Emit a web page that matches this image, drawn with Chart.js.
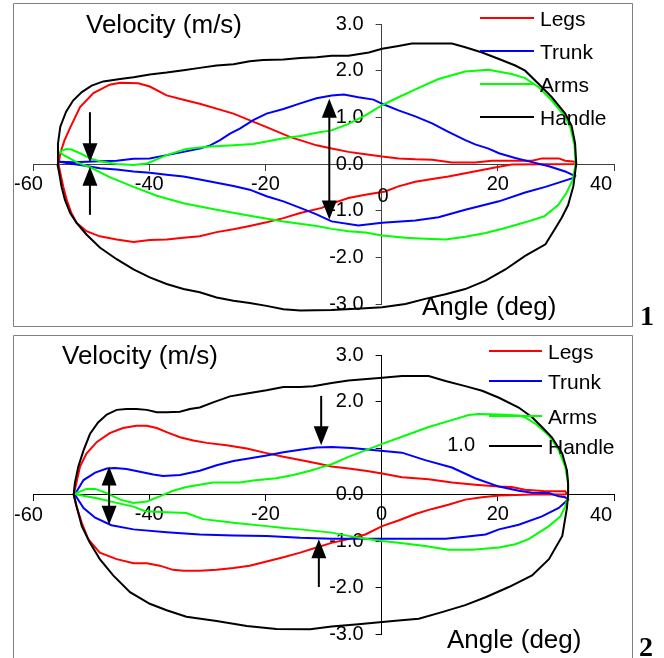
<!DOCTYPE html>
<html>
<head>
<meta charset="utf-8">
<script src="https://cdn.jsdelivr.net/npm/chart.js@4.4.1/dist/chart.umd.min.js"></script>
<style>
body{margin:0;background:#fff;}
#page{position:relative;width:664px;height:658px;overflow:hidden;background:#fff;}
canvas{position:absolute;left:0;}
.num{position:absolute;font:bold 28px "Liberation Serif","Times New Roman",serif;color:#000;}
</style>
</head>
<body>
<div id="page">
<canvas id="top" width="664" height="328" style="top:0"></canvas>
<canvas id="bottom" width="664" height="330" style="top:328px"></canvas>
<div class="num" style="left:640px;top:300px">1</div>
<div class="num" style="left:639px;top:631px">2</div>
</div>
<script>
// [angle deg, velocity m/s], each loop traced catch -> finish -> catch
const legs1 = [[-55.6,0],[-55.3,0.23],[-54.6,0.5],[-53.6,0.78],[-51.9,1.22],[-49.6,1.52],[-46.8,1.70],[-45.0,1.74],[-41.9,1.73],[-39.9,1.66],[-37.0,1.47],[-33.6,1.36],[-31.3,1.29],[-25.5,1.08],[-19.8,0.79],[-15.8,0.58],[-11.2,0.40],[-8.6,0.33],[-5.7,0.26],[-2.8,0.21],[0.1,0.16],[2.9,0.12],[5.8,0.10],[8.7,0.09],[12.1,0.03],[16.1,0.03],[19.0,0.07],[25.9,0.07],[27.6,0.12],[30.5,0.12],[31.6,0.07],[33.3,0.05],[33.5,0],
  [22.4,-0.01],[20.2,-0.06],[17.3,-0.13],[14.4,-0.2],[11.5,-0.27],[8.7,-0.32],[5.8,-0.38],[2.9,-0.48],[0.6,-0.59],[-2.8,-0.66],[-5.7,-0.73],[-8.6,-0.85],[-10.3,-0.94],[-14.0,-1.05],[-16.9,-1.16],[-19.8,-1.25],[-22.7,-1.33],[-25.5,-1.40],[-28.4,-1.46],[-31.3,-1.55],[-34.1,-1.58],[-37.0,-1.62],[-39.9,-1.63],[-42.7,-1.67],[-45.6,-1.62],[-48.5,-1.55],[-50.8,-1.44],[-52.5,-1.26],[-53.4,-1.05],[-54.2,-0.77],[-54.8,-0.48],[-55.3,-0.19],[-55.6,0]];
const trunk1 = [[-55.5,0.05],[-53.1,0.04],[-50.8,0.05],[-48.5,0.06],[-45.6,0.07],[-42.7,0.11],[-39.9,0.12],[-37.0,0.19],[-34.1,0.26],[-31.3,0.33],[-29.5,0.40],[-27.8,0.51],[-26.1,0.65],[-24.4,0.76],[-22.1,0.94],[-19.8,1.08],[-16.9,1.18],[-14.0,1.30],[-11.2,1.41],[-8.6,1.47],[-6.5,1.49],[-4.0,1.43],[-1.4,1.38],[0.1,1.29],[2.9,1.15],[5.8,1.02],[8.7,0.87],[11.5,0.69],[14.4,0.51],[16.1,0.42],[18.4,0.33],[20.2,0.23],[23.0,0.13],[25.9,0.04],[28.8,-0.05],[31.6,-0.16],[33.3,-0.26],
  [33.0,-0.30],[28.2,-0.49],[24.7,-0.61],[20.2,-0.80],[14.4,-0.98],[9.8,-1.14],[5.8,-1.21],[0.1,-1.26],[-4.0,-1.32],[-8.6,-1.23],[-11.2,-1.08],[-14.0,-0.94],[-16.9,-0.80],[-19.8,-0.69],[-22.7,-0.55],[-25.5,-0.47],[-28.4,-0.40],[-31.3,-0.33],[-34.1,-0.27],[-37.0,-0.23],[-39.9,-0.19],[-42.7,-0.16],[-45.6,-0.12],[-48.5,-0.09],[-51.3,-0.03],[-54.2,0.02],[-55.5,0.05]];
const arms1 = [[-55.4,0.27],[-54.2,0.32],[-53.4,0.31],[-51.9,0.23],[-50.2,0.12],[-48.5,0.06],[-45.6,0.0],[-42.7,-0.02],[-40.4,0.01],[-38.7,0.10],[-37.0,0.19],[-33.6,0.32],[-30.1,0.37],[-25.5,0.40],[-22.1,0.43],[-19.8,0.48],[-16.9,0.55],[-14.0,0.60],[-11.2,0.67],[-8.6,0.72],[-5.7,0.86],[-2.8,1.04],[0.1,1.26],[2.9,1.43],[6.4,1.63],[9.8,1.82],[14.4,1.98],[18.4,2.02],[22.4,1.93],[24.7,1.84],[27.0,1.65],[29.3,1.36],[31.6,1.01],[32.5,0.78],[33.2,0.40],[33.4,0.0],
  [32.9,-0.34],[31.8,-0.62],[30.4,-0.88],[28.0,-1.12],[24.7,-1.25],[21.3,-1.37],[17.9,-1.48],[14.4,-1.56],[11.0,-1.62],[7.5,-1.60],[4.1,-1.58],[0.1,-1.53],[-2.8,-1.47],[-5.7,-1.44],[-8.6,-1.39],[-11.2,-1.33],[-16.9,-1.23],[-22.7,-1.11],[-28.4,-0.98],[-34.1,-0.84],[-38.7,-0.68],[-42.7,-0.49],[-46.8,-0.28],[-50.0,-0.08],[-52.5,0.04],[-55.0,0.21],[-55.4,0.27]];
const handle1 = [[-55.8,0],[-55.7,0.44],[-55.3,0.80],[-54.3,1.12],[-53.1,1.36],[-51.6,1.54],[-49.9,1.68],[-47.9,1.77],[-45.0,1.82],[-42.7,1.86],[-39.9,1.92],[-37.0,1.96],[-34.1,2.01],[-31.3,2.06],[-28.4,2.11],[-25.5,2.14],[-22.7,2.20],[-20.4,2.23],[-16.9,2.24],[-14.0,2.27],[-11.2,2.29],[-8.6,2.32],[-5.7,2.32],[-2.2,2.39],[0.1,2.47],[2.9,2.53],[5.2,2.58],[12.1,2.58],[14.4,2.50],[17.3,2.39],[20.2,2.25],[23.0,2.11],[24.7,2.0],[27.0,1.72],[29.3,1.43],[31.6,1.08],[32.7,0.82],[33.3,0.44],[33.5,0],
  [33.0,-0.48],[32.1,-0.88],[31.0,-1.15],[29.8,-1.40],[28.2,-1.72],[24.7,-1.97],[21.3,-2.26],[17.9,-2.50],[14.4,-2.68],[11.0,-2.79],[7.5,-2.89],[4.1,-3.0],[0.1,-3.07],[-2.8,-3.09],[-8.6,-3.13],[-14.0,-3.14],[-16.9,-3.11],[-19.8,-3.04],[-22.7,-2.98],[-25.5,-2.93],[-28.4,-2.86],[-31.3,-2.75],[-34.1,-2.68],[-37.0,-2.57],[-39.9,-2.43],[-42.7,-2.26],[-45.6,-2.04],[-48.5,-1.79],[-50.8,-1.51],[-52.5,-1.26],[-53.6,-1.05],[-54.5,-0.77],[-55.1,-0.48],[-55.5,-0.19],[-55.8,0]];

const legs2 = [[-53.0,0],[-52.8,0.10],[-51.9,0.60],[-50.8,0.88],[-49.0,1.13],[-46.8,1.32],[-44.5,1.43],[-42.2,1.48],[-40.4,1.48],[-38.7,1.43],[-37.0,1.34],[-34.7,1.23],[-32.4,1.16],[-30.1,1.11],[-26.7,1.06],[-23.2,0.99],[-19.8,0.89],[-16.9,0.81],[-14.0,0.74],[-11.2,0.67],[-8.6,0.60],[-5.7,0.56],[-2.8,0.51],[0.1,0.45],[3.5,0.37],[8.1,0.33],[12.1,0.26],[16.1,0.21],[20.2,0.17],[22.4,0.16],[24.7,0.10],[28.2,0.07],[31.6,0.07],[31.9,0.02],
  [31.6,0.0],[25.9,0.0],[20.2,-0.02],[17.3,-0.06],[14.4,-0.11],[11.5,-0.22],[8.7,-0.31],[5.8,-0.42],[2.9,-0.56],[0.1,-0.68],[-2.8,-0.86],[-5.7,-0.96],[-8.6,-1.04],[-11.2,-1.14],[-14.0,-1.25],[-16.9,-1.35],[-19.8,-1.44],[-22.7,-1.53],[-25.5,-1.58],[-28.4,-1.62],[-31.3,-1.64],[-34.1,-1.64],[-35.9,-1.62],[-38.2,-1.53],[-40.4,-1.48],[-42.7,-1.48],[-45.6,-1.39],[-48.5,-1.25],[-50.5,-0.96],[-51.6,-0.61],[-52.5,-0.26],[-53.0,0]];
const trunk2 = [[-52.8,0.0],[-51.3,0.31],[-49.3,0.47],[-47.3,0.56],[-45.9,0.57],[-43.9,0.55],[-41.6,0.49],[-39.3,0.43],[-37.6,0.40],[-34.7,0.42],[-31.3,0.51],[-28.4,0.63],[-25.5,0.72],[-22.1,0.79],[-19.8,0.84],[-16.9,0.91],[-14.0,0.96],[-11.2,1.01],[-8.6,1.02],[-5.1,1.0],[-1.1,0.95],[3.5,0.90],[7.5,0.74],[12.1,0.58],[16.1,0.35],[20.2,0.17],[23.6,0.08],[25.9,0.04],[28.8,0.03],[30.5,-0.04],[31.6,-0.06],[32.1,-0.11],
  [30.5,-0.29],[27.6,-0.47],[23.6,-0.65],[20.2,-0.75],[17.9,-0.86],[14.4,-0.91],[11.0,-0.95],[2.9,-0.95],[-2.8,-0.95],[-8.6,-0.95],[-14.0,-0.93],[-19.8,-0.89],[-25.5,-0.88],[-31.3,-0.86],[-37.0,-0.81],[-42.7,-0.75],[-46.5,-0.66],[-49.3,-0.50],[-51.3,-0.29],[-52.8,0.0]];
const arms2 = [[-52.8,0.02],[-50.8,0.12],[-49.3,0.12],[-47.3,0.03],[-45.0,-0.11],[-42.7,-0.18],[-40.4,-0.15],[-38.2,-0.04],[-35.9,0.08],[-33.6,0.16],[-31.3,0.21],[-29.0,0.26],[-24.4,0.26],[-22.1,0.30],[-18.1,0.35],[-15.2,0.42],[-12.3,0.51],[-10.0,0.60],[-8.6,0.65],[-5.7,0.81],[-2.8,0.95],[0.1,1.09],[4.1,1.27],[8.1,1.45],[12.1,1.60],[15.0,1.71],[16.7,1.73],[20.2,1.72],[23.6,1.70],[24.7,1.66],[26.5,1.52],[28.8,1.27],[30.5,0.95],[31.6,0.60],[32.1,0.24],[32.1,-0.04],
  [31.6,-0.26],[30.8,-0.47],[28.8,-0.68],[25.3,-0.96],[23.0,-1.07],[20.2,-1.14],[15.6,-1.19],[11.5,-1.19],[7.5,-1.11],[2.9,-1.04],[0.1,-1.0],[-2.8,-0.95],[-5.7,-0.89],[-8.6,-0.82],[-14.0,-0.75],[-16.9,-0.72],[-19.8,-0.68],[-25.5,-0.61],[-30.7,-0.53],[-33.6,-0.40],[-37.0,-0.38],[-40.7,-0.36],[-42.7,-0.26],[-45.6,-0.18],[-49.0,-0.08],[-52.5,0.0],[-52.8,0.02]];
const handle2 = [[-53.0,0],[-52.8,0.24],[-52.2,0.60],[-51.3,0.95],[-50.2,1.30],[-48.8,1.55],[-47.3,1.72],[-45.6,1.82],[-43.9,1.84],[-42.2,1.84],[-40.4,1.82],[-38.7,1.77],[-37.0,1.77],[-34.7,1.78],[-33.0,1.84],[-31.3,1.87],[-29.0,1.98],[-26.1,2.11],[-23.2,2.17],[-19.8,2.24],[-16.9,2.31],[-14.0,2.31],[-11.8,2.33],[-8.6,2.40],[-5.7,2.45],[0.1,2.51],[3.5,2.55],[8.1,2.55],[11.0,2.44],[14.4,2.33],[17.3,2.23],[20.2,2.08],[23.6,1.87],[25.9,1.66],[27.6,1.45],[29.3,1.23],[31.1,0.88],[31.9,0.52],[32.1,0.24],[32.1,0],
  [31.9,-0.29],[31.1,-0.89],[28.8,-1.39],[25.9,-1.74],[21.9,-1.99],[17.9,-2.21],[14.4,-2.38],[10.4,-2.53],[6.4,-2.67],[2.9,-2.71],[0.1,-2.74],[-4.0,-2.79],[-8.6,-2.84],[-12.3,-2.90],[-18.1,-2.89],[-23.2,-2.83],[-28.4,-2.72],[-33.6,-2.63],[-37.0,-2.49],[-39.9,-2.35],[-43.3,-2.10],[-46.2,-1.74],[-48.5,-1.39],[-50.2,-1.04],[-51.6,-0.68],[-52.5,-0.26],[-53.0,0]];

const seriesNames = ["Legs","Trunk","Arms","Handle"];
const seriesColors = ["#ff0000","#0000ff","#00ff00","#000000"];
const xTickStep = 20, yTickStep = 1;

// arrows: [angle, from velocity, to velocity (tip), head at both ends]
const arrows1 = [[-50.2,1.11,0.04,false],[-50.2,-1.09,-0.06,false],[-9.0,1.40,-1.19,true]];
const arrows2 = [[-10.4,2.12,1.06,false],[-10.8,-1.99,-0.96,false],[-46.9,0.60,-0.65,true]];

Chart.defaults.font.family = "'Liberation Sans', Arial, sans-serif";
Chart.defaults.color = "#000";

function pts(s){ return s.map(p=>({x:p[0], y:p[1]})); }

function arrowHead(ctx,x,tip,dir){
ctx.beginPath(); ctx.moveTo(x,tip); ctx.lineTo(x-7.5,tip-dir*19); ctx.lineTo(x+7.5,tip-dir*19); ctx.closePath(); ctx.fill();
}

function decor(o){
return {
id:"decor",
afterLayout(chart){
  // put the y axis on the angle=0 line, labels keep their tick padding
  let y=chart.scales.y, x0=chart.scales.x.getPixelForValue(0);
  y.left=x0-90; y.right=x0;
},
beforeDraw(chart){
  let ctx=chart.ctx, f=o.frame;
  ctx.save(); ctx.strokeStyle="#808080"; ctx.lineWidth=1;
  ctx.beginPath();
  if(f.bottom){ ctx.rect(f.l,f.t,f.r-f.l,f.bottom-f.t); }
  else { ctx.moveTo(f.l,chart.height); ctx.lineTo(f.l,f.t); ctx.lineTo(f.r,f.t); ctx.lineTo(f.r,chart.height); }
  ctx.stroke(); ctx.restore();
},
afterDraw(chart){
  let ctx=chart.ctx, xs=chart.scales.x, ys=chart.scales.y;
  ctx.save();
  ctx.fillStyle="#000"; ctx.textBaseline="alphabetic"; ctx.textAlign="left";
  ctx.font="26px 'Liberation Sans', Arial, sans-serif";
  o.titles.forEach(t=>ctx.fillText(t[0],t[1],t[2]));
  // legend
  ctx.font="21px 'Liberation Sans', Arial, sans-serif";
  chart.data.datasets.forEach((d,i)=>{
    let y=o.legend.ys[i];
    ctx.strokeStyle=d.borderColor; ctx.lineWidth=2;
    ctx.beginPath(); ctx.moveTo(o.legend.x1,y); ctx.lineTo(o.legend.x2,y); ctx.stroke();
    ctx.fillText(d.label,o.legend.tx,y+7.5);
  });
  // tick labels that sit off their ticks in the original
  ctx.font="20px 'Liberation Sans', Arial, sans-serif"; ctx.textBaseline="middle";
  o.extra.forEach(e=>{ ctx.textAlign=e.align; ctx.fillText(e.t,e.x,e.y); });
  // arrows
  ctx.strokeStyle="#000"; ctx.fillStyle="#000"; ctx.lineWidth=2;
  o.arrows.forEach(a=>{
    let x=xs.getPixelForValue(a[0]), y1=ys.getPixelForValue(a[1]), y2=ys.getPixelForValue(a[2]);
    let dir=y2>y1?1:-1;
    ctx.beginPath(); ctx.moveTo(x,a[3]?y1+dir*10:y1); ctx.lineTo(x,y2-dir*10); ctx.stroke();
    arrowHead(ctx,x,y2,dir);
    if(a[3]) arrowHead(ctx,x,y1,-dir);
  });
  ctx.restore();
}
};
}

function makeChart(id,series,o){
return new Chart(document.getElementById(id),{
type:"scatter",
data:{datasets:series.map((s,i)=>({label:seriesNames[i],data:pts(s),borderColor:seriesColors[i],backgroundColor:seriesColors[i],
  borderWidth:2,pointRadius:0,showLine:true,fill:false,tension:0,clip:false,order:4-i}))},
options:{
  responsive:false, animation:false, events:[],
  layout:{padding:o.pad},
  plugins:{legend:{display:false},tooltip:{enabled:false}},
  scales:{
    x:{type:"linear",min:-60,max:40,position:{y:0},afterFit:s=>{s.height=0;},
      ticks:{stepSize:xTickStep,font:{size:20},padding:2,color:"#000",callback:o.xLabel},
      grid:{drawOnChartArea:false,tickLength:6,color:o.axis},border:{color:o.axis,width:1}},
    y:{type:"linear",min:-3,max:3,position:"left",afterFit:s=>{s.width=0;},
      ticks:{stepSize:yTickStep,font:{size:20},padding:12,color:"#000",callback:o.yLabel},
      grid:{drawOnChartArea:false,tickLength:6,color:o.axis},border:{color:o.axis,width:1}}
  }
},
plugins:[decor(o)]
});
}

makeChart("top",[legs1,trunk1,arms1,handle1],{
pad:{left:33,right:50,top:24,bottom:22},
axis:"#404040",
xLabel:v=>(v===0||v===-60||v===40)?"":String(v),
yLabel:v=>v.toFixed(1),
frame:{l:13.5,t:3.5,r:632.5,bottom:326.5},
titles:[["Velocity (m/s)",86,33],["Angle (deg)",422,315]],
legend:{x1:480,x2:534,tx:540,ys:[18,51,84,117]},
extra:[{t:"0",x:383,y:196,align:"center"},{t:"-60",x:28.5,y:184,align:"center"},{t:"40",x:601,y:184,align:"center"}],
arrows:arrows1
});

makeChart("bottom",[legs2,trunk2,arms2,handle2],{
pad:{left:33,right:50,top:27,bottom:21},
axis:"#000",
xLabel:v=>(v===-60||v===40)?"":String(v),
yLabel:v=>v===1?"":v.toFixed(1),
frame:{l:13.5,t:7.5,r:632.5},
titles:[["Velocity (m/s)",62,36],["Angle (deg)",447,320]],
legend:{x1:489,x2:542,tx:548,ys:[23,53,88,118]},
extra:[{t:"1.0",x:475,y:117,align:"right"},{t:"-60",x:28.5,y:187,align:"center"},{t:"40",x:601,y:187,align:"center"}],
arrows:arrows2
});
</script>
</body>
</html>
